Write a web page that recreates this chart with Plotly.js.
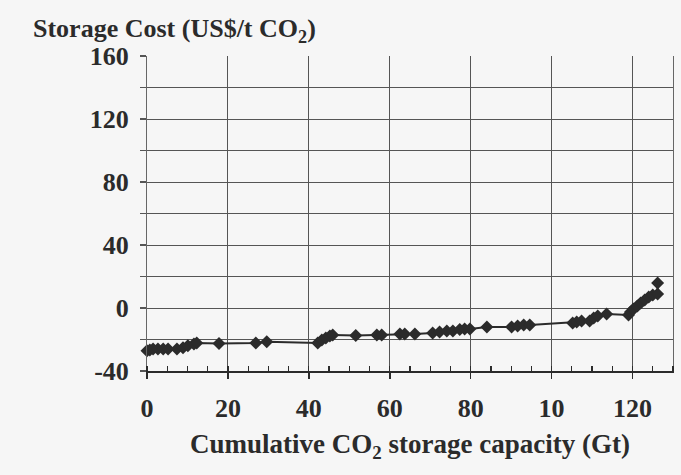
<!DOCTYPE html>
<html>
<head>
<meta charset="utf-8">
<script src="https://cdn.plot.ly/plotly-3.0.1.min.js"></script>
<style>html,body{margin:0;padding:0;background:#f6f6f6;}</style>
</head>
<body>
<div id="chart" style="width:681px;height:475px;"></div>
<script>
// Cumulative CO2 storage capacity (Gt)
const capacity = [0, 0.7, 1.5, 2.7, 4.0, 5.2, 7.4, 8.9, 10.1, 11.6, 12.3, 17.8, 26.9, 29.6,
  42.2, 43.2, 44.2, 45.2, 45.9, 51.6, 56.8, 58.0, 62.5, 63.7, 66.2, 70.6, 72.3, 74.1, 75.6,
  77.3, 78.5, 79.8, 84.0, 90.1, 91.6, 93.1, 94.6, 105.2, 106.2, 107.4, 109.4, 110.4, 111.4,
  113.6, 119.0, 119.5, 120.2, 121.2, 122.0, 123.0, 124.0, 125.0, 126.2, 126.2];
// Storage cost (US$/t CO2)
const cost = [-27.2, -26.6, -26, -26, -26, -26, -26, -25.3, -24, -22.8, -22.2, -22.5, -22.2, -21.5,
  -22.2, -20.3, -19, -17.7, -17.1, -17.4, -17.1, -17.1, -16.5, -16.5, -16.5, -15.8, -15.2, -14.6, -14.6,
  -13.6, -13.3, -13.3, -12, -12, -11.4, -10.8, -10.8, -9.5, -8.9, -8.2, -8.2, -6.3, -5.1,
  -3.8, -4.4, -2.5, -0.6, 1.3, 3.2, 5.1, 7, 8.2, 8.9, 15.8];

const xTickVals = [0, 20, 40, 60, 80, 100, 120];
const xTickText = ['0', '20', '40', '60', '80', '10', '120'];
const yTickVals = [-40, 0, 40, 80, 120, 160];
const yTickText = ['-40', '0', '40', '80', '120', '160'];

const serif = 'Liberation Serif, Times New Roman, serif';
const ink = '#2b2b2b';

const trace = {
  x: capacity,
  y: cost,
  type: 'scatter',
  mode: 'lines+markers',
  line: {color: ink, width: 2},
  marker: {symbol: 'diamond', size: 10, color: ink},
  cliponaxis: false,
  hoverinfo: 'x+y'
};

const layout = {
  width: 681,
  height: 475,
  paper_bgcolor: '#f6f6f6',
  plot_bgcolor: '#f6f6f6',
  margin: {l: 147, r: 8, t: 56, b: 104},
  showlegend: false,
  title: {
    text: 'Storage Cost (US$/t CO<sub>2</sub>)',
    font: {family: serif, size: 26, color: ink, weight: 'bold'},
    xref: 'container', yref: 'container',
    x: 33 / 681, xanchor: 'left',
    y: 1 - 28 / 475, yanchor: 'middle'
  },
  xaxis: {
    range: [0, 130],
    tickmode: 'array',
    tickvals: xTickVals,
    ticktext: xTickText,
    tickfont: {family: serif, size: 26, color: ink, weight: 'bold'},
    ticks: 'outside', ticklen: 6, tickwidth: 1.5, tickcolor: ink,
    ticklabelstandoff: 7,
    minor: {dtick: 5, tick0: 0, ticks: 'inside', ticklen: 5, tickwidth: 1.2, tickcolor: ink, showgrid: false},
    showgrid: true, gridcolor: '#555', gridwidth: 1,
    showline: true, linecolor: ink, linewidth: 2,
    zeroline: false,
    title: {
      text: 'Cumulative CO<sub>2</sub> storage capacity (Gt)',
      font: {family: serif, size: 27, color: ink, weight: 'bold'},
      standoff: 12
    }
  },
  yaxis: {
    range: [-40, 160],
    tickmode: 'array',
    tickvals: yTickVals,
    ticktext: yTickText,
    tickfont: {family: serif, size: 26, color: ink, weight: 'bold'},
    ticks: 'outside', ticklen: 6, tickwidth: 1.2, tickcolor: '#555',
    ticklabelstandoff: 6,
    minor: {dtick: 20, tick0: -40, ticks: 'outside', ticklen: 6, tickwidth: 1.2, tickcolor: '#555', showgrid: true, gridcolor: '#555', gridwidth: 1},
    showgrid: true, gridcolor: '#555', gridwidth: 1,
    showline: true, linecolor: '#666', linewidth: 1, mirror: true,
    zeroline: false
  }
};

Plotly.newPlot('chart', [trace], layout, {displayModeBar: false, staticPlot: true});
</script>
</body>
</html>
